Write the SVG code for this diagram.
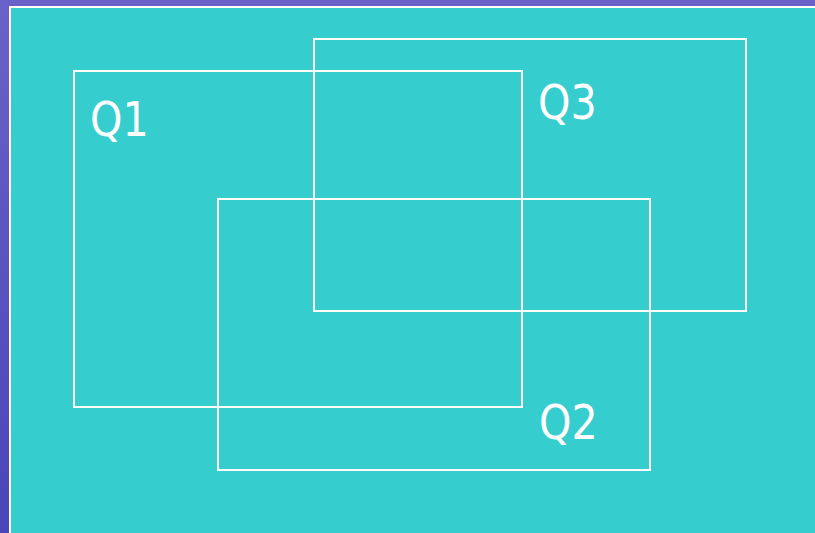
<svg xmlns="http://www.w3.org/2000/svg" width="815" height="533" viewBox="0 0 815 533">
<defs>
<style>
.box{fill:none;stroke:#ffffff;stroke-width:2}
.lbl{font-family:"DejaVu Sans",Verdana,sans-serif;font-size:48px;fill:#ffffff}
</style>
<linearGradient id="bg" x1="0" y1="0" x2="0" y2="1">
<stop offset="0" stop-color="#6a62c8"/>
<stop offset="1" stop-color="#4a45b8"/>
</linearGradient>
</defs>
<rect x="0" y="0" width="815" height="533" fill="url(#bg)"/>
<rect x="10" y="7" width="815" height="540" fill="#36cdcf" stroke="#ffffff" stroke-width="2"/>
<g id="Q1">
<rect class="box" x="74" y="71" width="448" height="336"/>
<text class="lbl" transform="translate(90,136) scale(0.86,1)">Q1</text>
</g>
<g id="Q3">
<rect class="box" x="314" y="39" width="432" height="272"/>
<text class="lbl" transform="translate(538,119) scale(0.86,1)">Q3</text>
</g>
<g id="Q2">
<rect class="box" x="218" y="199" width="432" height="271"/>
<text class="lbl" transform="translate(539,439) scale(0.86,1)">Q2</text>
</g>
<g id="connectors"/>
</svg>
